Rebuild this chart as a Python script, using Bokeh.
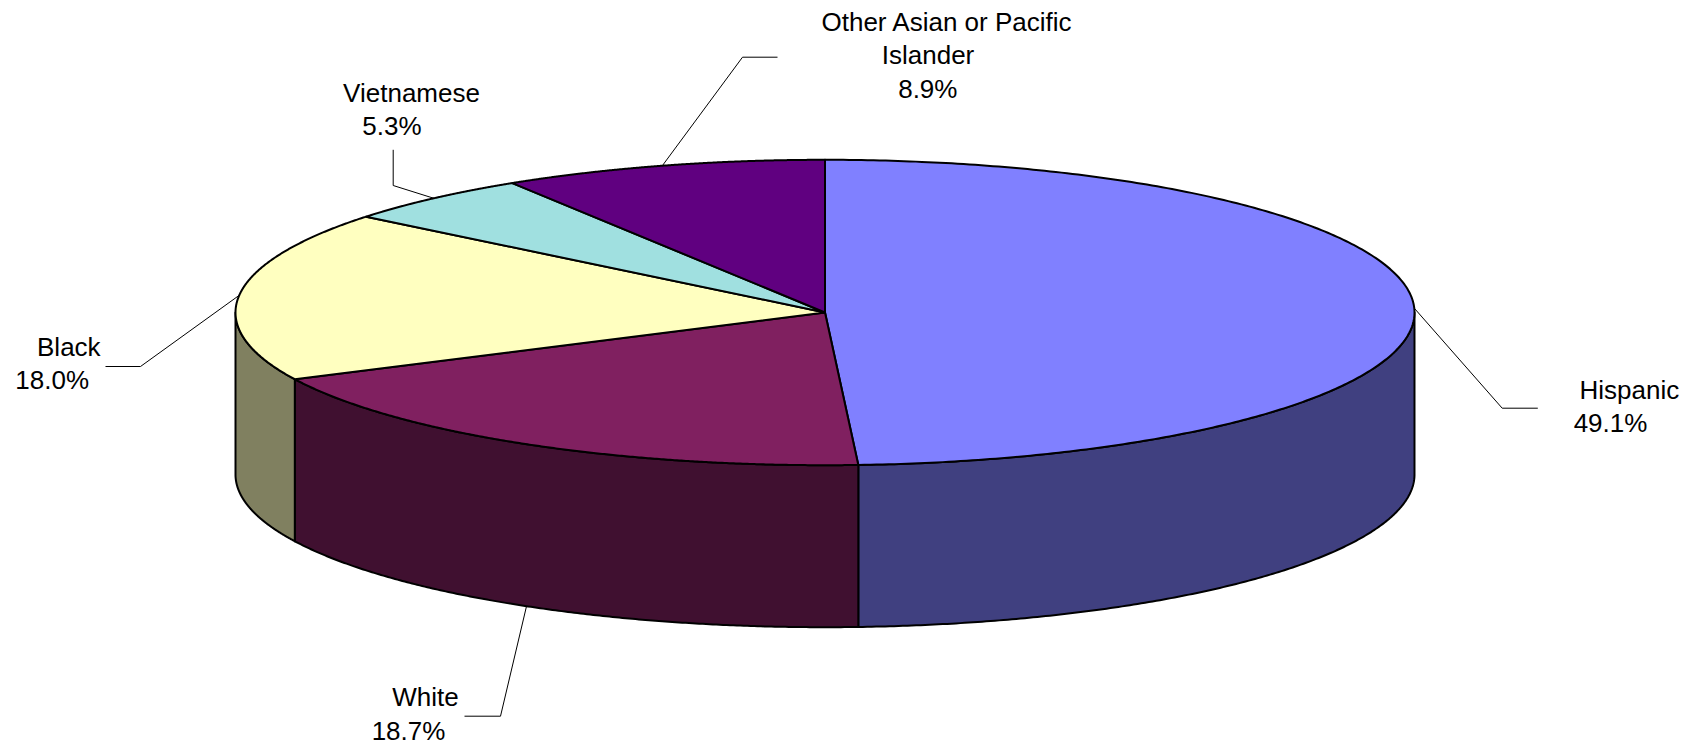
import numpy as np
from bokeh.plotting import figure
from bokeh.models import Range1d
from bokeh.core.properties import value
from bokeh.embed import file_html
from bokeh.resources import INLINE

# ---- data ----
categories = ["Hispanic", "White", "Black", "Vietnamese", "Other Asian or Pacific Islander"]
shares = [49.1, 18.7, 18.0, 5.3, 8.9]
label_lines = [["Hispanic"], ["White"], ["Black"], ["Vietnamese"], ["Other Asian or Pacific", "Islander"]]
top_colors = ["#8080FF", "#802060", "#FFFFC0", "#A0E0E0", "#600080"]
side_colors = ["#404080", "#401030", "#808060", "#507070", "#300040"]

# ---- layout (pixel space of the page) ----
W, H = 1697, 747
cx, cy, rx, ry, depth = 824.5, 312.0, 589.5, 152.7, 162.0
FONT = value("Liberation Sans")
FS = "26px"
LINE_H = 33.4
TEXT_DY = -11.0   # renderer places alphabetic baseline lower than requested

# per label: elbow point, end point, line centres and first baseline
leader_elbow = [(1501.7, 407.7), (500, 715.7), (140, 366), (392.7, 185), (742, 56.7)]
leader_end = [(1537.3, 407.7), (464, 715.7), (105, 366), (392.7, 149.3), (777, 56.7)]
label_cx = [[1628.8, 1610], [425, 408], [68.3, 51.7], [411, 391.5], [946.7, 927.5, 927.3]]
label_base = [400, 707.7, 357.3, 103.3, 32.3]

p = figure(width=W, height=H, output_backend="svg", toolbar_location=None,
           x_range=Range1d(0, W), y_range=Range1d(H, 0),
           min_border=0, outline_line_color=None, background_fill_color="white")
p.axis.visible = False
p.grid.visible = False


def pt(theta_deg, down=0.0):
    t = np.radians(theta_deg)
    return cx + rx * np.sin(t), cy - ry * np.cos(t) + down


total = sum(shares)
bounds = np.concatenate([[0], np.cumsum(shares) / total * 360.0])

# sides (front half: 90..270 deg clockwise from top)
for i in range(len(shares)):
    a0, a1 = bounds[i], bounds[i + 1]
    s0, s1 = max(a0, 90), min(a1, 270)
    if s1 <= s0:
        continue
    th = np.linspace(s0, s1, 200)
    xt, yt = pt(th)
    xb, yb = pt(th[::-1], depth)
    p.patch(np.concatenate([xt, xb]), np.concatenate([yt, yb]),
            fill_color=side_colors[i], line_color="black", line_width=2, line_join="round")

# tops
for i in range(len(shares)):
    a0, a1 = bounds[i], bounds[i + 1]
    th = np.linspace(a0, a1, 300)
    xt, yt = pt(th)
    p.patch(np.concatenate([[cx], xt]), np.concatenate([[cy], yt]),
            fill_color=top_colors[i], line_color="black", line_width=2, line_join="round")

# leader lines and labels
for i in range(len(shares)):
    mid = (bounds[i] + bounds[i + 1]) / 2
    front = 90 < mid < 270
    sx, sy = pt(mid, depth if front else 0.0)
    ex, ey = leader_elbow[i]
    fx, fy = leader_end[i]
    p.line([sx, ex, fx], [sy, ey, fy], line_color="black", line_width=1)
    lines = label_lines[i] + [f"{shares[i]:.1f}%"]
    for k, txt in enumerate(lines):
        p.text(x=[label_cx[i][k]], y=[label_base[i] + k * LINE_H + TEXT_DY], text=[txt],
               text_font=FONT, text_font_size=FS, text_color="black",
               text_align="center", text_baseline="alphabetic")

open("out.html", "w").write(file_html(p, INLINE))
